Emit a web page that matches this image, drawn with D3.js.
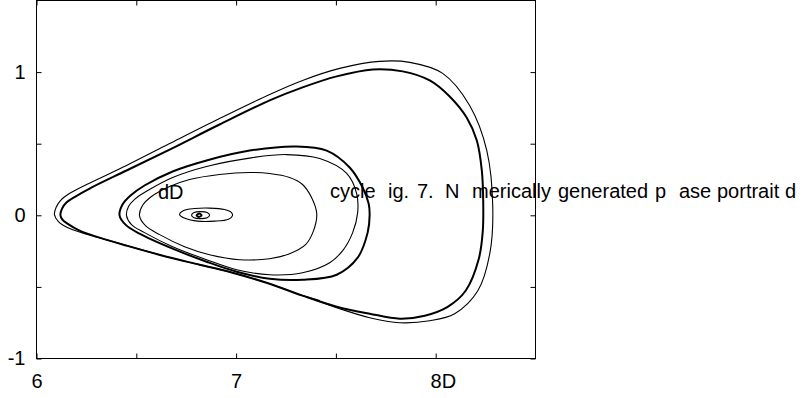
<!DOCTYPE html>
<html lang="en">
<head>
<meta charset="UTF-8">
<title>Phase portrait</title>
<script src="https://d3js.org/d3.v7.min.js"></script>
<style>
  body { margin: 0; background: #fff; }
  svg { display: block; font-family: "Liberation Sans", Arial, Helvetica, sans-serif; }
</style>
</head>
<body>
<script>
// axis ticks and their labels
const xTicks = [6, 6.5, 7, 7.5, 8];
const xTickLabels = ["6", "", "7", "", "8D"];
const yTicks = [-1, -0.5, 0, 0.5, 1];
const yTickLabels = ["-1", "", "0", "", "1"];

// large stable cycle (thick), clockwise from the left tip
const largeCycle = [
  [6.120, 0.000], [6.128, 0.047], [6.150, 0.089], [6.195, 0.131], [6.266, 0.187],
  [6.451, 0.313], [6.667, 0.459], [6.917, 0.634], [7.168, 0.802], [7.333, 0.893],
  [7.504, 0.970], [7.684, 1.019], [7.835, 1.005], [7.970, 0.942], [8.070, 0.830],
  [8.155, 0.683], [8.206, 0.522], [8.231, 0.313], [8.238, 0.103], [8.236, -0.107],
  [8.216, -0.303], [8.150, -0.527], [8.060, -0.639], [7.945, -0.701], [7.820, -0.722],
  [7.669, -0.687], [7.504, -0.638], [7.333, -0.561], [7.168, -0.478], [6.982, -0.401],
  [6.817, -0.345], [6.652, -0.289], [6.451, -0.212], [6.316, -0.156], [6.216, -0.107],
  [6.155, -0.058], [6.130, -0.030]
];

// thin transient outside the large cycle
const outerPath = [
  [7.419, -0.596], [7.333, -0.561], [7.168, -0.478], [6.982, -0.401], [6.652, -0.289],
  [6.366, -0.177], [6.241, -0.128], [6.155, -0.086], [6.110, -0.044], [6.090, 0.005],
  [6.098, 0.054], [6.120, 0.103], [6.165, 0.152], [6.251, 0.215], [6.451, 0.348],
  [6.667, 0.501], [6.917, 0.676], [7.168, 0.844], [7.333, 0.942], [7.519, 1.026],
  [7.719, 1.075], [7.870, 1.068], [8.035, 0.991], [8.170, 0.767], [8.256, 0.452],
  [8.286, 0.054], [8.271, -0.268], [8.211, -0.527], [8.095, -0.687], [7.970, -0.736],
  [7.820, -0.750], [7.669, -0.715], [7.519, -0.652], [7.393, -0.589]
];

// middle cycle (thick)
const middleCycle = [
  [6.416, 0.000], [6.431, 0.075], [6.471, 0.138], [6.541, 0.208], [6.682, 0.306],
  [6.852, 0.383], [7.068, 0.452], [7.303, 0.481], [7.454, 0.452], [7.569, 0.334],
  [7.634, 0.194], [7.664, 0.082], [7.669, 0.000], [7.659, -0.121], [7.609, -0.296],
  [7.504, -0.415], [7.333, -0.450], [7.168, -0.443], [7.003, -0.394], [6.852, -0.324],
  [6.682, -0.233], [6.516, -0.128], [6.446, -0.065]
];

// thin loops inside the middle cycle, from the equilibrium outwards
const loop0 = [[6.802, 0.000], [6.815, 0.012], [6.827, 0.000], [6.815, -0.011]];
const loop1 = [
  [6.777, 0.001], [6.789, 0.019], [6.822, 0.026], [6.855, 0.019],
  [6.867, 0.001], [6.855, -0.017], [6.822, -0.023], [6.789, -0.017]
];
const loop2 = [
  [6.717, 0.005], [6.737, 0.033], [6.792, 0.047], [6.867, 0.050], [6.942, 0.040],
  [6.977, 0.019], [6.982, -0.002], [6.962, -0.027], [6.892, -0.041], [6.807, -0.041],
  [6.747, -0.023]
];
const loop3 = [
  [6.516, -0.002], [6.531, 0.068], [6.576, 0.131], [6.667, 0.201], [6.767, 0.250],
  [6.917, 0.285], [7.068, 0.299], [7.168, 0.292], [7.268, 0.264], [7.333, 0.215],
  [7.378, 0.124], [7.404, 0.012], [7.388, -0.107], [7.348, -0.205], [7.268, -0.268],
  [7.168, -0.303], [7.018, -0.310], [6.867, -0.275], [6.742, -0.219], [6.617, -0.135],
  [6.546, -0.072]
];
const loop4 = [
  [6.451, -0.002], [6.461, 0.061], [6.496, 0.117], [6.566, 0.180], [6.682, 0.264],
  [6.852, 0.341], [7.083, 0.403], [7.253, 0.424], [7.419, 0.396], [7.554, 0.292],
  [7.604, 0.152], [7.609, 0.019], [7.584, -0.121], [7.534, -0.247], [7.469, -0.331],
  [7.333, -0.401], [7.168, -0.415], [7.003, -0.380], [6.852, -0.310], [6.682, -0.219],
  [6.541, -0.121], [6.476, -0.065]
];

// stray text fragments on the page
const labelFragments = ["cycle", "ig.", "7.", "N", "merically", "generated", "p", "ase", "portrait", "d"];

const width = 805, height = 398;
const plotLeft = 36.5, plotRight = 535.5, plotTop = 0.5, plotBottom = 358.5;

const svg = d3.select("body").append("svg")
    .attr("width", width)
    .attr("height", height);

const x = d3.scaleLinear().domain([6, 8.5]).range([plotLeft, plotRight]);
const y = d3.scaleLinear().domain([-1, 1.5]).range([plotBottom, plotTop]);

// frame
svg.append("rect")
    .attr("x", plotLeft).attr("y", plotTop)
    .attr("width", plotRight - plotLeft).attr("height", plotBottom - plotTop)
    .attr("fill", "none").attr("stroke", "#000").attr("stroke-width", 1);

function styleAxis(g) {
  g.select(".domain").remove();
  g.selectAll(".tick line").attr("stroke", "#000");
  g.selectAll("text").attr("font-size", 20).attr("fill", "#000")
      .attr("font-family", "'Liberation Sans', Arial, sans-serif");
}

svg.append("g")
    .attr("transform", `translate(0,${plotBottom})`)
    .call(d3.axisBottom(x).tickValues(xTicks).tickSizeInner(-5).tickSizeOuter(0)
        .tickFormat((d, i) => xTickLabels[i]))
    .call(styleAxis)
    .call(g => g.selectAll("text").attr("y", 29).attr("dy", 0)
        .attr("text-anchor", "start").attr("x", -5.6));

svg.append("g")
    .attr("transform", `translate(0,${plotTop})`)
    .call(d3.axisTop(x).tickValues(xTicks).tickSizeInner(-5).tickSizeOuter(0).tickFormat(""))
    .call(styleAxis);

svg.append("g")
    .attr("transform", `translate(${plotLeft},0)`)
    .call(d3.axisLeft(y).tickValues(yTicks).tickSizeInner(-5).tickSizeOuter(0)
        .tickFormat((d, i) => yTickLabels[i]))
    .call(styleAxis)
    .call(g => g.selectAll("text").attr("x", -11));

svg.append("g")
    .attr("transform", `translate(${plotRight},0)`)
    .call(d3.axisRight(y).tickValues(yTicks).tickSizeInner(-5).tickSizeOuter(0).tickFormat(""))
    .call(styleAxis);

// trajectories
const openLine = d3.line().x(d => x(d[0])).y(d => y(d[1]))
    .curve(d3.curveCatmullRom.alpha(0.5));
const closedLine = d3.line().x(d => x(d[0])).y(d => y(d[1]))
    .curve(d3.curveCatmullRomClosed.alpha(0.5));

const curves = svg.append("g").attr("fill", "none").attr("stroke", "#000");

curves.append("path").attr("d", openLine(outerPath)).attr("stroke-width", 1.1);
curves.append("path").attr("d", closedLine(largeCycle)).attr("stroke-width", 2);
curves.append("path").attr("d", closedLine(middleCycle)).attr("stroke-width", 2);
[loop4, loop3, loop2, loop1].forEach(loop => {
  curves.append("path").attr("d", closedLine(loop)).attr("stroke-width", 1.1);
});
curves.append("path").attr("d", closedLine(loop0)).attr("stroke-width", 2);

// text left on the figure
const txt = svg.append("g")
    .attr("font-size", 20)
    .attr("fill", "#000");

txt.append("text").attr("x", 158).attr("y", 199).text("dD");

const fragX = [330, 388, 417, 445, 472, 558, 655, 679, 717, 785];
txt.selectAll("text.frag")
    .data(labelFragments)
    .join("text")
    .attr("class", "frag")
    .attr("x", (d, i) => fragX[i])
    .attr("y", 198)
    .text(d => d);
</script>
</body>
</html>
